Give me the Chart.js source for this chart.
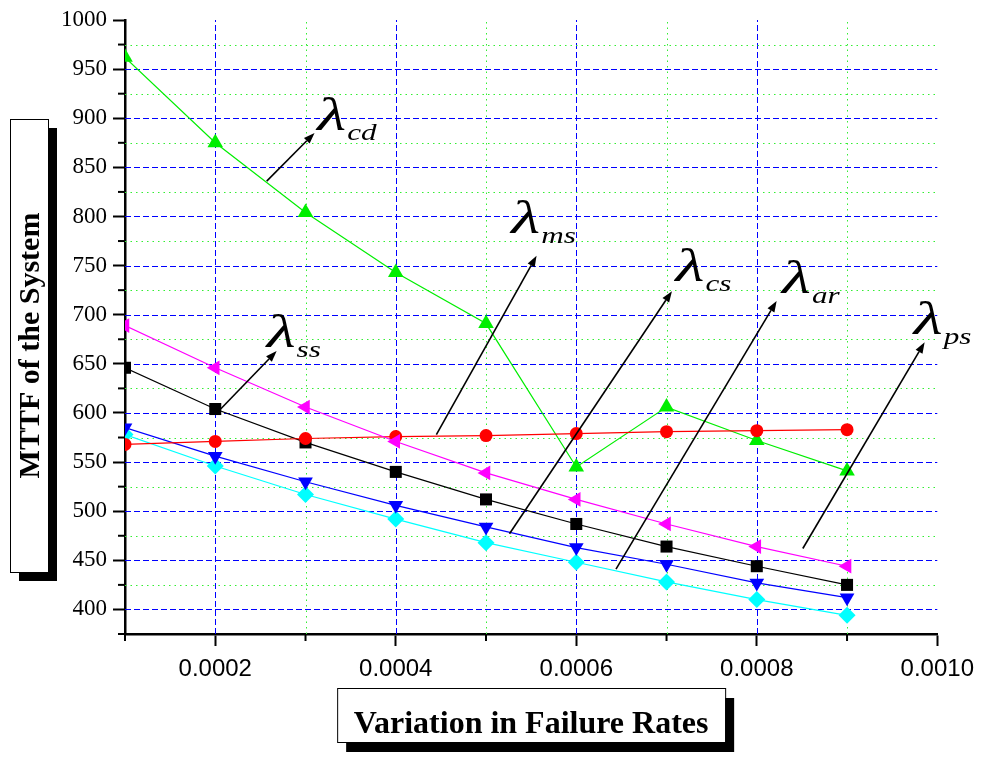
<!DOCTYPE html>
<html>
<head>
<meta charset="utf-8">
<title>MTTF vs failure rates</title>
<script src="https://cdn.jsdelivr.net/npm/chart.js@4.4.1/dist/chart.umd.min.js"></script>
<style>
    html, body { margin: 0; padding: 0; background: #fff; }
    #wrap { width: 983px; height: 762px; position: relative; }
</style>
</head>
<body>
<div id="wrap"><canvas id="chart"></canvas></div>
<script>
// ---------------------------------------------------------------------------
//  data
// ---------------------------------------------------------------------------
const rates   = [0.0001, 0.0002, 0.0003, 0.0004, 0.0005, 0.0006, 0.0007, 0.0008, 0.0009];
const mttfSS  = [646, 604, 570, 540, 512, 487, 464, 444, 425];   // black squares
const mttfMS  = [568, 571, 574, 576, 577, 579, 581, 582, 583];   // red circles
const mttfCD  = [962, 875, 804, 743, 691, 545, 606, 572, 541];   // green up triangles
const mttfCS  = [578, 546, 517, 492, 468, 448, 428, 410, 394];   // cyan diamonds
const mttfAR  = [585, 556, 530, 506, 484, 463, 446, 427, 412];   // blue down triangles
const mttfPS  = [689, 646, 606, 571, 539, 512, 487, 464, 444];   // magenta left triangles

const xTicks = [0.0002, 0.0004, 0.0006, 0.0008, 0.0010];
const yTicks = [400, 450, 500, 550, 600, 650, 700, 750, 800, 850, 900, 950, 1000];

// lambda call-outs, anchored in data units
const calloutSub   = ['cd', 'ss', 'ms', 'cs', 'ar', 'ps'];
const calloutX     = [0.000313, 0.000257, 0.000528, 0.000710, 0.000828, 0.000974];
const calloutY     = [888, 667, 783, 734, 722, 680];
const arrowFromX   = [0.000257, 0.000206, 0.000445, 0.000526, 0.000644, 0.000851];
const arrowFromY   = [836, 604, 578, 477, 441, 462];
const arrowToX     = [0.000310, 0.000268, 0.000556, 0.000706, 0.000822, 0.000986];
const arrowToY     = [885, 663, 760, 724, 714, 672];

const xTitle = 'Variation in Failure Rates';
const yTitle = 'MTTF of the System';

// ---------------------------------------------------------------------------

const SERIF = '"Liberation Serif", "Times New Roman", serif';
const SANS  = '"Liberation Sans", Arial, sans-serif';

function pts(values) {
    return values.map((v, i) => ({ x: rates[i], y: v }));
}

function series(label, values, color, style, rotation, radius) {
    return {
        label,
        data: pts(values),
        borderColor: color,
        backgroundColor: color,
        borderWidth: 1.2,
        pointStyle: style,
        pointRotation: rotation,
        pointRadius: radius,
        pointBorderWidth: 0,
        pointBackgroundColor: color,
        tension: 0,
        clip: { left: 0, top: false, right: false, bottom: 0 }
    };
}

const isMajorX = v => Math.round(v * 10000) % 2 === 0;
const isMajorY = v => Math.round(v) % 50 === 0;

// dashed majors / dotted minors, plus the short minor tick marks
const originGrid = {
    id: 'originGrid',
    beforeDatasetsDraw(chart) {
        const { ctx, chartArea: a, scales: { x, y } } = chart;
        ctx.save();
        ctx.lineWidth = 1;
        x.ticks.forEach(t => {
            const k = Math.round(t.value * 10000);
            if (k <= 1 || k >= 10) return;
            const px = Math.round(x.getPixelForValue(t.value)) + 0.5;
            const major = k % 2 === 0;
            ctx.strokeStyle = major ? '#0000ff' : '#33ee33';
            ctx.setLineDash(major ? [6, 3] : [1.5, 4]);
            ctx.beginPath();
            ctx.moveTo(px, a.bottom);
            ctx.lineTo(px, a.top);
            ctx.stroke();
        });
        y.ticks.forEach(t => {
            if (t.value <= y.min || t.value >= y.max) return;
            const py = Math.round(y.getPixelForValue(t.value)) + 0.5;
            const major = isMajorY(t.value);
            ctx.strokeStyle = major ? '#0000ff' : '#33ee33';
            ctx.setLineDash(major ? [6, 3] : [1.5, 4]);
            ctx.beginPath();
            ctx.moveTo(a.left, py);
            ctx.lineTo(a.right, py);
            ctx.stroke();
        });

        // short minor ticks outside the axes
        ctx.setLineDash([]);
        ctx.strokeStyle = '#000';
        ctx.lineWidth = 2;
        x.ticks.forEach(t => {
            if (isMajorX(t.value)) return;
            const px = x.getPixelForValue(t.value);
            ctx.beginPath();
            ctx.moveTo(px, a.bottom);
            ctx.lineTo(px, a.bottom + 7);
            ctx.stroke();
        });
        y.ticks.forEach(t => {
            if (isMajorY(t.value)) return;
            const py = y.getPixelForValue(t.value);
            ctx.beginPath();
            ctx.moveTo(a.left, py);
            ctx.lineTo(a.left - 7, py);
            ctx.stroke();
        });
        ctx.restore();
    }
};

// stretched text, the reference glyphs are wider than plain Times
function wideText(ctx, txt, x, y, font, sx) {
    ctx.save();
    ctx.font = font;
    ctx.translate(x, y);
    ctx.scale(sx, 1);
    ctx.fillText(txt, 0, 0);
    const w = ctx.measureText(txt).width * sx;
    ctx.restore();
    return w;
}

// arrows and lambda labels
const callouts = {
    id: 'callouts',
    afterDatasetsDraw(chart) {
        const { ctx, scales: { x, y } } = chart;
        ctx.save();
        ctx.fillStyle = '#000';
        ctx.strokeStyle = '#000';
        ctx.lineWidth = 1.6;
        ctx.textAlign = 'left';
        ctx.textBaseline = 'alphabetic';
        for (let i = 0; i < calloutSub.length; i++) {
            const x0 = x.getPixelForValue(arrowFromX[i]);
            const y0 = y.getPixelForValue(arrowFromY[i]);
            const x1 = x.getPixelForValue(arrowToX[i]);
            const y1 = y.getPixelForValue(arrowToY[i]);
            const ang = Math.atan2(y1 - y0, x1 - x0);
            const head = 11, half = 4;
            const bx = x1 - Math.cos(ang) * head;
            const by = y1 - Math.sin(ang) * head;
            ctx.beginPath();
            ctx.moveTo(x0, y0);
            ctx.lineTo(bx, by);
            ctx.stroke();
            ctx.beginPath();
            ctx.moveTo(x1, y1);
            ctx.lineTo(bx + Math.sin(ang) * half, by - Math.cos(ang) * half);
            ctx.lineTo(bx - Math.sin(ang) * half, by + Math.cos(ang) * half);
            ctx.closePath();
            ctx.fill();

            const lx = x.getPixelForValue(calloutX[i]);
            const ly = y.getPixelForValue(calloutY[i]);
            const w = wideText(ctx, '\u03bb', lx, ly, 'italic 46px ' + SERIF, 1.45);
            wideText(ctx, calloutSub[i], lx + w + 1, ly + 10, 'italic 24px ' + SERIF, 1.3);
        }
        ctx.restore();
    }
};

// boxed axis titles with drop shadows
const boxedTitles = {
    id: 'boxedTitles',
    afterDraw(chart) {
        const { ctx, chartArea: a } = chart;
        ctx.save();
        const cx = (a.left + a.right) / 2;

        // x title
        let bw = 388, bh = 54, bx = cx - bw / 2, by = a.bottom + 54;
        ctx.fillStyle = '#000';
        ctx.fillRect(bx + 9, by + 10, bw, bh);
        ctx.fillStyle = '#fff';
        ctx.fillRect(bx, by, bw, bh);
        ctx.strokeStyle = '#000';
        ctx.lineWidth = 1;
        ctx.strokeRect(bx + 0.5, by + 0.5, bw, bh);
        ctx.fillStyle = '#000';
        ctx.font = 'bold 32px ' + SERIF;
        ctx.textAlign = 'center';
        ctx.textBaseline = 'alphabetic';
        ctx.fillText(xTitle, cx, by + 45);

        // y title
        bw = 38; bh = 453; bx = 10; by = 119;
        ctx.fillRect(bx + 9, by + 9, bw, bh);
        ctx.fillStyle = '#fff';
        ctx.fillRect(bx, by, bw, bh);
        ctx.strokeRect(bx + 0.5, by + 0.5, bw, bh);
        ctx.fillStyle = '#000';
        ctx.translate(bx + 29, by + bh / 2);
        ctx.rotate(-Math.PI / 2);
        ctx.font = 'bold 30px ' + SERIF;
        ctx.fillText(yTitle, 0, 0);
        ctx.restore();
    }
};

new Chart(document.getElementById('chart'), {
    type: 'line',
    data: {
        datasets: [
            series('\u03bbps', mttfPS, '#ff00ff', 'triangle', -90, 8.5),
            series('\u03bbms', mttfMS, '#ff0000', 'circle', 0, 6.5),
            series('\u03bbcd', mttfCD, '#00ee00', 'triangle', 0, 9),
            series('\u03bbar', mttfAR, '#0000ff', 'triangle', 180, 8.5),
            series('\u03bbcs', mttfCS, '#00ffff', 'rectRot', 0, 8.5),
            series('\u03bbss', mttfSS, '#000000', 'rect', 0, 8.5)
        ]
    },
    options: {
        responsive: true,
        maintainAspectRatio: false,
        animation: false,
        layout: { padding: { top: 20, right: 43, bottom: 68, left: 0 } },
        plugins: {
            legend: { display: false },
            tooltip: { enabled: false }
        },
        scales: {
            x: {
                type: 'linear',
                min: 0.0001,
                max: 0.0010,
                afterFit: s => { s.height = 60; },
                ticks: {
                    stepSize: 0.0001,
                    autoSkip: false,
                    maxRotation: 0,
                    padding: 9,
                    color: '#000',
                    font: { family: SANS, size: 24 },
                    callback: v => {
                        const hit = xTicks.find(t => Math.abs(t - v) < 1e-9);
                        return hit !== undefined ? hit.toFixed(4) : '';
                    }
                },
                grid: {
                    drawOnChartArea: false,
                    drawTicks: true,
                    tickLength: 12,
                    tickWidth: 2,
                    tickColor: c => isMajorX(c.tick.value) ? '#000' : 'rgba(0,0,0,0)'
                },
                border: { display: true, color: '#000', width: 2.5 }
            },
            y: {
                type: 'linear',
                min: 375,
                max: 1000,
                afterFit: s => { s.width = 125; },
                ticks: {
                    stepSize: 25,
                    autoSkip: false,
                    padding: 6,
                    color: '#000',
                    font: { family: SERIF, size: 23 },
                    callback: v => yTicks.includes(Math.round(v)) ? String(Math.round(v)) : ''
                },
                grid: {
                    drawOnChartArea: false,
                    drawTicks: true,
                    tickLength: 12,
                    tickWidth: 2,
                    tickColor: c => isMajorY(c.tick.value) ? '#000' : 'rgba(0,0,0,0)'
                },
                border: { display: true, color: '#000', width: 2.5 }
            }
        }
    },
    plugins: [originGrid, callouts, boxedTitles]
});
</script>
</body>
</html>
